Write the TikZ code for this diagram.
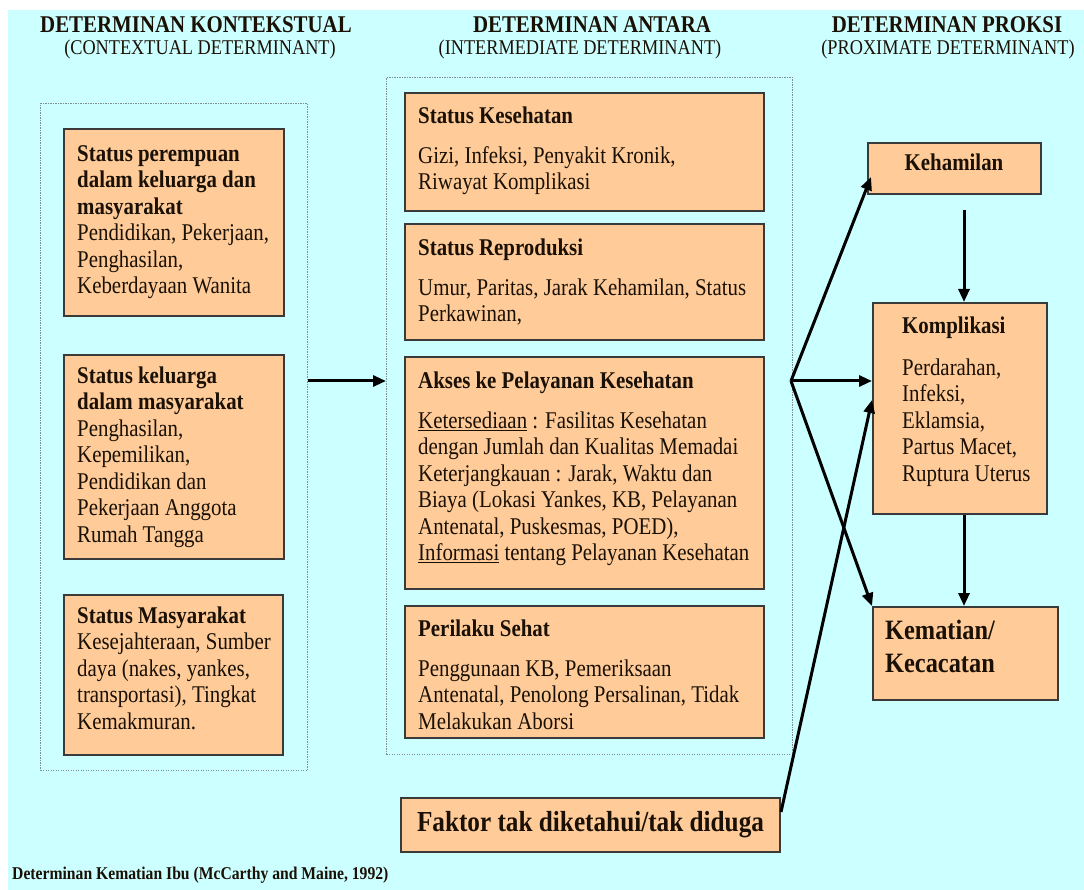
\documentclass[tikz,border=0pt]{standalone}
\usepackage{fontspec}
\setmainfont{Liberation Serif}[FakeStretch=0.87]
\usetikzlibrary{arrows.meta}
\definecolor{bgcyan}{HTML}{CCFFFF}
\definecolor{peach}{HTML}{FFCC99}
\definecolor{bord}{HTML}{3A3A3A}
\definecolor{ink}{HTML}{1A1005}
\definecolor{dotc}{HTML}{7F8F8F}
\newcommand{\tstrut}{\rule{0pt}{20pt}}
\newcommand{\bstrut}{\rule{0pt}{22pt}}
\begin{document}
\begin{tikzpicture}[x=1pt,y=-1pt,
  box/.style={draw=bord, line width=2pt, fill=peach, inner sep=0pt, anchor=north west},
  txt/.style={anchor=north west, inner sep=0pt, align=left, text=ink, font=\fontsize{24}{26.5}\selectfont},
  cont/.style={draw=dotc, line width=1pt, dash pattern=on 1.2pt off 1.3pt, inner sep=0pt, anchor=north west},
  head/.style={text=ink, inner sep=0pt, anchor=base, font=\fontsize{24}{26}\selectfont\bfseries},
  subhead/.style={text=ink, inner sep=0pt, anchor=base, font=\fontsize{21}{24}\selectfont},
  arr/.style={draw=black, line width=3pt, -{Triangle[length=13pt,width=11pt]}},
]
\useasboundingbox (0,0) rectangle (1084,890);
\fill[white] (0,0) rectangle (1084,890);
\fill[bgcyan] (8,10) rectangle (1084,890);

% headers
\node[head] (h1) at (196,33) {DETERMINAN KONTEKSTUAL};
\node[subhead] (s1) at (200,55) {(CONTEXTUAL DETERMINANT)};
\node[head] (h2) at (592,33) {DETERMINAN ANTARA};
\node[subhead] (s2) at (580,55) {(INTERMEDIATE DETERMINANT)};
\node[head] (h3) at (947,33) {DETERMINAN PROKSI};
\node[subhead] (s3) at (948,55) {(PROXIMATE DETERMINANT)};

% dotted containers
\node[cont, minimum width=267pt, minimum height=667pt] (lc) at (40,103) {};
\node[cont, minimum width=406pt, minimum height=677pt] (mc) at (386,77) {};

% left boxes
\node[box, minimum width=220pt, minimum height=187pt] (b1) at (63,128) {};
\node[txt] (t1) at (77,141) {\tstrut\textbf{Status perempuan}\\ \textbf{dalam keluarga dan}\\ \textbf{masyarakat}\\ Pendidikan, Pekerjaan,\\ Penghasilan,\\ Keberdayaan Wanita};
\node[box, minimum width=220pt, minimum height=204pt] (b2) at (63,354) {};
\node[txt] (t2) at (77,363) {\tstrut\textbf{Status keluarga}\\ \textbf{dalam masyarakat}\\ Penghasilan,\\ Kepemilikan,\\ Pendidikan dan\\ Pekerjaan Anggota\\ Rumah Tangga};
\node[box, minimum width=219pt, minimum height=160pt] (b3) at (63,594) {};
\node[txt] (t3) at (77,603) {\tstrut\textbf{Status Masyarakat}\\ Kesejahteraan, Sumber\\ daya (nakes, yankes,\\ transportasi), Tingkat\\ Kemakmuran.};

% middle boxes
\node[box, minimum width=359pt, minimum height=118pt] (m1) at (404,92) {};
\node[txt] (u1) at (418,103) {\tstrut\textbf{Status Kesehatan}\\[13.5pt] Gizi, Infeksi, Penyakit Kronik,\\ Riwayat Komplikasi};
\node[box, minimum width=359pt, minimum height=116pt] (m2) at (404,223) {};
\node[txt] (u2) at (418,235) {\tstrut\textbf{Status Reproduksi}\\[13.5pt] Umur, Paritas, Jarak Kehamilan, Status\\ Perkawinan,};
\node[box, minimum width=359pt, minimum height=232pt] (m3) at (404,356) {};
\node[txt] (u3) at (418,368) {\tstrut\textbf{Akses ke Pelayanan Kesehatan}\\[13.5pt] \underline{Ketersediaan} : Fasilitas Kesehatan\\ dengan Jumlah dan Kualitas Memadai\\ Keterjangkauan : Jarak, Waktu dan\\ Biaya (Lokasi Yankes, KB, Pelayanan\\ Antenatal, Puskesmas, POED),\\ \underline{Informasi} tentang Pelayanan Kesehatan};
\node[box, minimum width=359pt, minimum height=132pt] (m4) at (404,605) {};
\node[txt] (u4) at (418,616) {\tstrut\textbf{Perilaku Sehat}\\[13.5pt] Penggunaan KB, Pemeriksaan\\ Antenatal, Penolong Persalinan, Tidak\\ Melakukan Aborsi};

% right boxes
\node[box, minimum width=173pt, minimum height=51pt] (keh) at (867,142) {};
\node[text=ink, inner sep=0pt, anchor=base, font=\fontsize{24}{26.5}\selectfont\bfseries] (keht) at (954,171) {Kehamilan};
\node[box, minimum width=174pt, minimum height=211pt] (komp) at (872,302) {};
\node[txt] (kt) at (902,313) {\tstrut\textbf{Komplikasi}\\[15.5pt] Perdarahan,\\ Infeksi,\\ Eklamsia,\\ Partus Macet,\\ Ruptura Uterus};
\node[box, minimum width=185pt, minimum height=93pt] (kem) at (872,606) {};
\node[txt, font=\fontsize{28}{33}\selectfont\bfseries] (kemt) at (885,617) {\bstrut Kematian/\\ Kecacatan};

% unknown factor box
\node[box, minimum width=379pt, minimum height=54pt, text=ink, font=\fontsize{29}{32}\selectfont\bfseries] (fak) at (400,797) {Faktor tak diketahui/tak diduga};

% footer
\node[anchor=base west, inner sep=0pt, text=ink, font=\fontsize{18}{20}\selectfont\bfseries] (foot) at (12,879) {Determinan Kematian Ibu (McCarthy and Maine, 1992)};

% connectors
\coordinate (fan) at (791,381);
\coordinate (ax) at (964,0);
\draw[arr] (lc.east |- fan) -- (mc.west |- fan);
\draw[arr] (fan) -- ([xshift=4pt,yshift=18pt]keh.south west);
\draw[arr] (fan) -- (komp.west |- fan);
\draw[arr] (fan) -- (kem.north west);
\draw[arr] ([yshift=-15pt]fak.north east) -- ([yshift=-98pt]komp.north west);
\draw[arr, shorten <=15pt] (keh.south -| ax) -- (komp.north -| ax);
\draw[arr] (komp.south -| ax) -- (kem.north -| ax);
\end{tikzpicture}
\end{document}
